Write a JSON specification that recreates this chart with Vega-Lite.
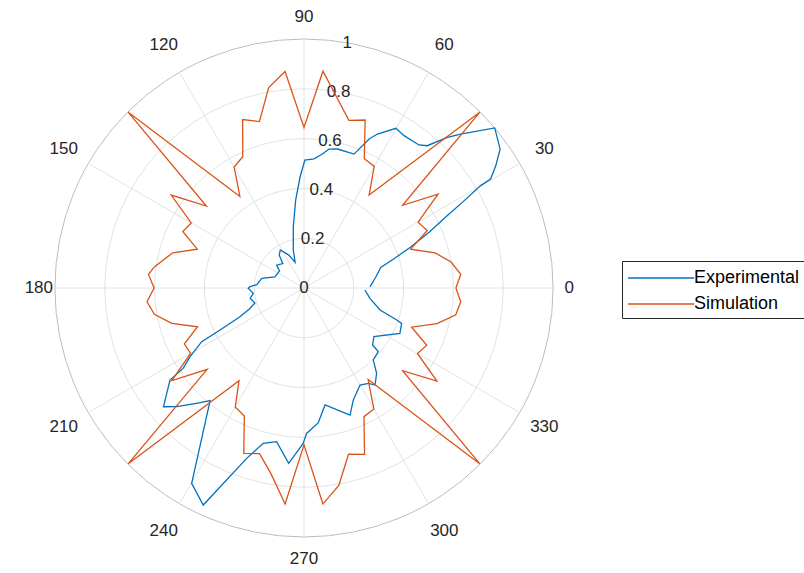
{
  "$schema": "https://vega.github.io/schema/vega-lite/v6.json",
  "width": 498,
  "height": 498,
  "autosize": {"type": "none"},
  "padding": {"left": 55, "top": 39, "right": 251, "bottom": 36},
  "background": "white",
  "config": {"view": {"stroke": null}, "font": "Liberation Sans"},
  "datasets": {
    "radii": [{"r": 0}, {"r": 0.2}, {"r": 0.4}, {"r": 0.6}, {"r": 0.8}, {"r": 1}],
    "spokes": [{"a": 0}, {"a": 30}, {"a": 60}, {"a": 90}, {"a": 120}, {"a": 150}, {"a": 180}, {"a": 210}, {"a": 240}, {"a": 270}, {"a": 300}, {"a": 330}],
    "curves": [
      {"series": "Experimental", "t": 1, "r": 0.265},
      {"series": "Experimental", "t": 8.5, "r": 0.291},
      {"series": "Experimental", "t": 15, "r": 0.319},
      {"series": "Experimental", "t": 18, "r": 0.38},
      {"series": "Experimental", "t": 21, "r": 0.459},
      {"series": "Experimental", "t": 24, "r": 0.55},
      {"series": "Experimental", "t": 26.8, "r": 0.645},
      {"series": "Experimental", "t": 28.4, "r": 0.723},
      {"series": "Experimental", "t": 30.1, "r": 0.82},
      {"series": "Experimental", "t": 30.3, "r": 0.868},
      {"series": "Experimental", "t": 32.5, "r": 0.913},
      {"series": "Experimental", "t": 35.3, "r": 0.965},
      {"series": "Experimental", "t": 40, "r": 1.0},
      {"series": "Experimental", "t": 44.5, "r": 0.882},
      {"series": "Experimental", "t": 46.4, "r": 0.835},
      {"series": "Experimental", "t": 49.1, "r": 0.756},
      {"series": "Experimental", "t": 51.2, "r": 0.737},
      {"series": "Experimental", "t": 56.7, "r": 0.732},
      {"series": "Experimental", "t": 60.1, "r": 0.74},
      {"series": "Experimental", "t": 64.5, "r": 0.685},
      {"series": "Experimental", "t": 66.4, "r": 0.653},
      {"series": "Experimental", "t": 69.5, "r": 0.574},
      {"series": "Experimental", "t": 76.5, "r": 0.574},
      {"series": "Experimental", "t": 79.8, "r": 0.567},
      {"series": "Experimental", "t": 82.2, "r": 0.543},
      {"series": "Experimental", "t": 85.6, "r": 0.52},
      {"series": "Experimental", "t": 89.6, "r": 0.514},
      {"series": "Experimental", "t": 92, "r": 0.447},
      {"series": "Experimental", "t": 95.4, "r": 0.355},
      {"series": "Experimental", "t": 99.9, "r": 0.25},
      {"series": "Experimental", "t": 105.7, "r": 0.159},
      {"series": "Experimental", "t": 109, "r": 0.11},
      {"series": "Experimental", "t": 115, "r": 0.147},
      {"series": "Experimental", "t": 122, "r": 0.18},
      {"series": "Experimental", "t": 127, "r": 0.165},
      {"series": "Experimental", "t": 131, "r": 0.13},
      {"series": "Experimental", "t": 140, "r": 0.143},
      {"series": "Experimental", "t": 145, "r": 0.12},
      {"series": "Experimental", "t": 159, "r": 0.125},
      {"series": "Experimental", "t": 167, "r": 0.174},
      {"series": "Experimental", "t": 176, "r": 0.19},
      {"series": "Experimental", "t": 178.6, "r": 0.217},
      {"series": "Experimental", "t": 180.3, "r": 0.224},
      {"series": "Experimental", "t": 186, "r": 0.205},
      {"series": "Experimental", "t": 191, "r": 0.22},
      {"series": "Experimental", "t": 197, "r": 0.206},
      {"series": "Experimental", "t": 201, "r": 0.235},
      {"series": "Experimental", "t": 204.2, "r": 0.282},
      {"series": "Experimental", "t": 206.6, "r": 0.377},
      {"series": "Experimental", "t": 207.7, "r": 0.464},
      {"series": "Experimental", "t": 211.1, "r": 0.535},
      {"series": "Experimental", "t": 213.6, "r": 0.582},
      {"series": "Experimental", "t": 214.5, "r": 0.653},
      {"series": "Experimental", "t": 220.2, "r": 0.739},
      {"series": "Experimental", "t": 223, "r": 0.699},
      {"series": "Experimental", "t": 227, "r": 0.633},
      {"series": "Experimental", "t": 230.2, "r": 0.589},
      {"series": "Experimental", "t": 240.1, "r": 0.905},
      {"series": "Experimental", "t": 245.1, "r": 0.961},
      {"series": "Experimental", "t": 251.4, "r": 0.722},
      {"series": "Experimental", "t": 255.3, "r": 0.645},
      {"series": "Experimental", "t": 259.9, "r": 0.627},
      {"series": "Experimental", "t": 265, "r": 0.707},
      {"series": "Experimental", "t": 269.7, "r": 0.624},
      {"series": "Experimental", "t": 271, "r": 0.584},
      {"series": "Experimental", "t": 276, "r": 0.545},
      {"series": "Experimental", "t": 280.2, "r": 0.477},
      {"series": "Experimental", "t": 289.9, "r": 0.543},
      {"series": "Experimental", "t": 293.8, "r": 0.491},
      {"series": "Experimental", "t": 300, "r": 0.45},
      {"series": "Experimental", "t": 304, "r": 0.462},
      {"series": "Experimental", "t": 306.2, "r": 0.483},
      {"series": "Experimental", "t": 310.4, "r": 0.45},
      {"series": "Experimental", "t": 313.9, "r": 0.401},
      {"series": "Experimental", "t": 319.4, "r": 0.393},
      {"series": "Experimental", "t": 320.3, "r": 0.358},
      {"series": "Experimental", "t": 325.2, "r": 0.342},
      {"series": "Experimental", "t": 334.7, "r": 0.426},
      {"series": "Experimental", "t": 340.1, "r": 0.417},
      {"series": "Experimental", "t": 341, "r": 0.394},
      {"series": "Experimental", "t": 343.9, "r": 0.318},
      {"series": "Experimental", "t": 351.1, "r": 0.268},
      {"series": "Experimental", "t": 358.1, "r": 0.245},
      {"series": "Simulation", "t": 0, "r": 0.61},
      {"series": "Simulation", "t": 5, "r": 0.632},
      {"series": "Simulation", "t": 10, "r": 0.6},
      {"series": "Simulation", "t": 15, "r": 0.545},
      {"series": "Simulation", "t": 20, "r": 0.456},
      {"series": "Simulation", "t": 25, "r": 0.546},
      {"series": "Simulation", "t": 30, "r": 0.529},
      {"series": "Simulation", "t": 35, "r": 0.657},
      {"series": "Simulation", "t": 40, "r": 0.517},
      {"series": "Simulation", "t": 45, "r": 1.0},
      {"series": "Simulation", "t": 55, "r": 0.456},
      {"series": "Simulation", "t": 60, "r": 0.564},
      {"series": "Simulation", "t": 65, "r": 0.573},
      {"series": "Simulation", "t": 70, "r": 0.718},
      {"series": "Simulation", "t": 75, "r": 0.697},
      {"series": "Simulation", "t": 85, "r": 0.874},
      {"series": "Simulation", "t": 90, "r": 0.645},
      {"series": "Simulation", "t": 95, "r": 0.873},
      {"series": "Simulation", "t": 100, "r": 0.817},
      {"series": "Simulation", "t": 105, "r": 0.692},
      {"series": "Simulation", "t": 110, "r": 0.72},
      {"series": "Simulation", "t": 115, "r": 0.582},
      {"series": "Simulation", "t": 120, "r": 0.561},
      {"series": "Simulation", "t": 125, "r": 0.449},
      {"series": "Simulation", "t": 135, "r": 1.0},
      {"series": "Simulation", "t": 140, "r": 0.512},
      {"series": "Simulation", "t": 145, "r": 0.651},
      {"series": "Simulation", "t": 150, "r": 0.523},
      {"series": "Simulation", "t": 155, "r": 0.537},
      {"series": "Simulation", "t": 160, "r": 0.456},
      {"series": "Simulation", "t": 165, "r": 0.546},
      {"series": "Simulation", "t": 172, "r": 0.607},
      {"series": "Simulation", "t": 175, "r": 0.627},
      {"series": "Simulation", "t": 180, "r": 0.602},
      {"series": "Simulation", "t": 185, "r": 0.633},
      {"series": "Simulation", "t": 190, "r": 0.61},
      {"series": "Simulation", "t": 195, "r": 0.55},
      {"series": "Simulation", "t": 200, "r": 0.455},
      {"series": "Simulation", "t": 205, "r": 0.53},
      {"series": "Simulation", "t": 210, "r": 0.526},
      {"series": "Simulation", "t": 215, "r": 0.648},
      {"series": "Simulation", "t": 220, "r": 0.508},
      {"series": "Simulation", "t": 225, "r": 1.0},
      {"series": "Simulation", "t": 235, "r": 0.455},
      {"series": "Simulation", "t": 240, "r": 0.552},
      {"series": "Simulation", "t": 245, "r": 0.567},
      {"series": "Simulation", "t": 250, "r": 0.707},
      {"series": "Simulation", "t": 255, "r": 0.689},
      {"series": "Simulation", "t": 260, "r": 0.759},
      {"series": "Simulation", "t": 265, "r": 0.871},
      {"series": "Simulation", "t": 270, "r": 0.63},
      {"series": "Simulation", "t": 275, "r": 0.871},
      {"series": "Simulation", "t": 280, "r": 0.805},
      {"series": "Simulation", "t": 285, "r": 0.691},
      {"series": "Simulation", "t": 290, "r": 0.711},
      {"series": "Simulation", "t": 295, "r": 0.57},
      {"series": "Simulation", "t": 300, "r": 0.561},
      {"series": "Simulation", "t": 305, "r": 0.449},
      {"series": "Simulation", "t": 315, "r": 1.0},
      {"series": "Simulation", "t": 320, "r": 0.517},
      {"series": "Simulation", "t": 325, "r": 0.652},
      {"series": "Simulation", "t": 330, "r": 0.526},
      {"series": "Simulation", "t": 335, "r": 0.544},
      {"series": "Simulation", "t": 340, "r": 0.46},
      {"series": "Simulation", "t": 345, "r": 0.553},
      {"series": "Simulation", "t": 350, "r": 0.619},
      {"series": "Simulation", "t": 355, "r": 0.632},
      {"series": "Simulation", "t": 360, "r": 0.61}
    ]
  },
  "layer": [
    {
      "data": {"name": "radii"},
      "transform": [
        {"filter": "datum.r > 0"},
        {"calculate": "1", "as": "turn"}
      ],
      "mark": {"type": "arc", "filled": false, "strokeWidth": 1},
      "encoding": {
        "theta": {"field": "turn", "type": "quantitative", "stack": null, "scale": {"type": "linear", "domain": [0, 1], "range": [0, 6.2832]}},
        "radius": {"field": "r", "type": "quantitative", "scale": {"type": "linear", "domain": [0, 1], "range": [0, 249]}},
        "stroke": {"condition": {"test": "datum.r == 1", "value": "#bdbdbd"}, "value": "#e2e2e2"}
      }
    },
    {
      "data": {"name": "spokes"},
      "transform": [
        {"calculate": "0", "as": "ox"},
        {"calculate": "cos(datum.a * PI / 180)", "as": "cx"},
        {"calculate": "sin(datum.a * PI / 180)", "as": "cy"}
      ],
      "mark": {"type": "rule", "color": "#e2e2e2", "strokeWidth": 1},
      "encoding": {
        "x": {"field": "ox", "type": "quantitative", "scale": {"domain": [-1, 1], "nice": false, "zero": false}, "axis": null},
        "y": {"field": "ox", "type": "quantitative", "scale": {"domain": [-1, 1], "nice": false, "zero": false}, "axis": null},
        "x2": {"field": "cx"},
        "y2": {"field": "cy"}
      }
    },
    {
      "data": {"name": "spokes"},
      "transform": [
        {"calculate": "1.065 + 0.025 * pow(sin(datum.a * PI / 180), 2) + 0.05 * abs(sin(datum.a * PI / 90))", "as": "lr"},
        {"calculate": "datum.lr * cos(datum.a * PI / 180)", "as": "lx"},
        {"calculate": "datum.lr * sin(datum.a * PI / 180)", "as": "ly"}
      ],
      "mark": {"type": "text", "fontSize": 17, "color": "#262626", "align": "center", "baseline": "middle"},
      "encoding": {
        "x": {"field": "lx", "type": "quantitative", "axis": null},
        "y": {"field": "ly", "type": "quantitative", "axis": null},
        "text": {"field": "a", "type": "quantitative"}
      }
    },
    {
      "data": {"name": "radii"},
      "transform": [
        {"calculate": "datum.r * cos(80 * PI / 180)", "as": "lx"},
        {"calculate": "datum.r * sin(80 * PI / 180)", "as": "ly"}
      ],
      "mark": {"type": "text", "fontSize": 17, "color": "#262626", "align": "center", "baseline": "middle"},
      "encoding": {
        "x": {"field": "lx", "type": "quantitative", "axis": null},
        "y": {"field": "ly", "type": "quantitative", "axis": null},
        "text": {"field": "r", "type": "quantitative", "format": "~g"}
      }
    },
    {
      "data": {"name": "curves"},
      "transform": [
        {"calculate": "datum.r * cos(datum.t * PI / 180)", "as": "px"},
        {"calculate": "datum.r * sin(datum.t * PI / 180)", "as": "py"}
      ],
      "mark": {"type": "line", "strokeWidth": 1.3},
      "encoding": {
        "x": {"field": "px", "type": "quantitative", "axis": null},
        "y": {"field": "py", "type": "quantitative", "axis": null},
        "order": {"field": "t", "type": "quantitative"},
        "color": {
          "field": "series",
          "type": "nominal",
          "scale": {"domain": ["Experimental", "Simulation"], "range": ["#0072BD", "#D95319"]},
          "legend": {
            "orient": "none",
            "legendX": 567,
            "legendY": 222,
            "title": null,
            "symbolType": "M-1,0H5",
            "symbolSize": 484,
            "symbolStrokeWidth": 1.3,
            "labelFontSize": 18,
            "labelColor": "#000000",
            "labelOffset": 43,
            "strokeColor": "#262626",
            "fillColor": "#ffffff",
            "padding": 5,
            "rowPadding": 5
          }
        }
      }
    }
  ]
}
